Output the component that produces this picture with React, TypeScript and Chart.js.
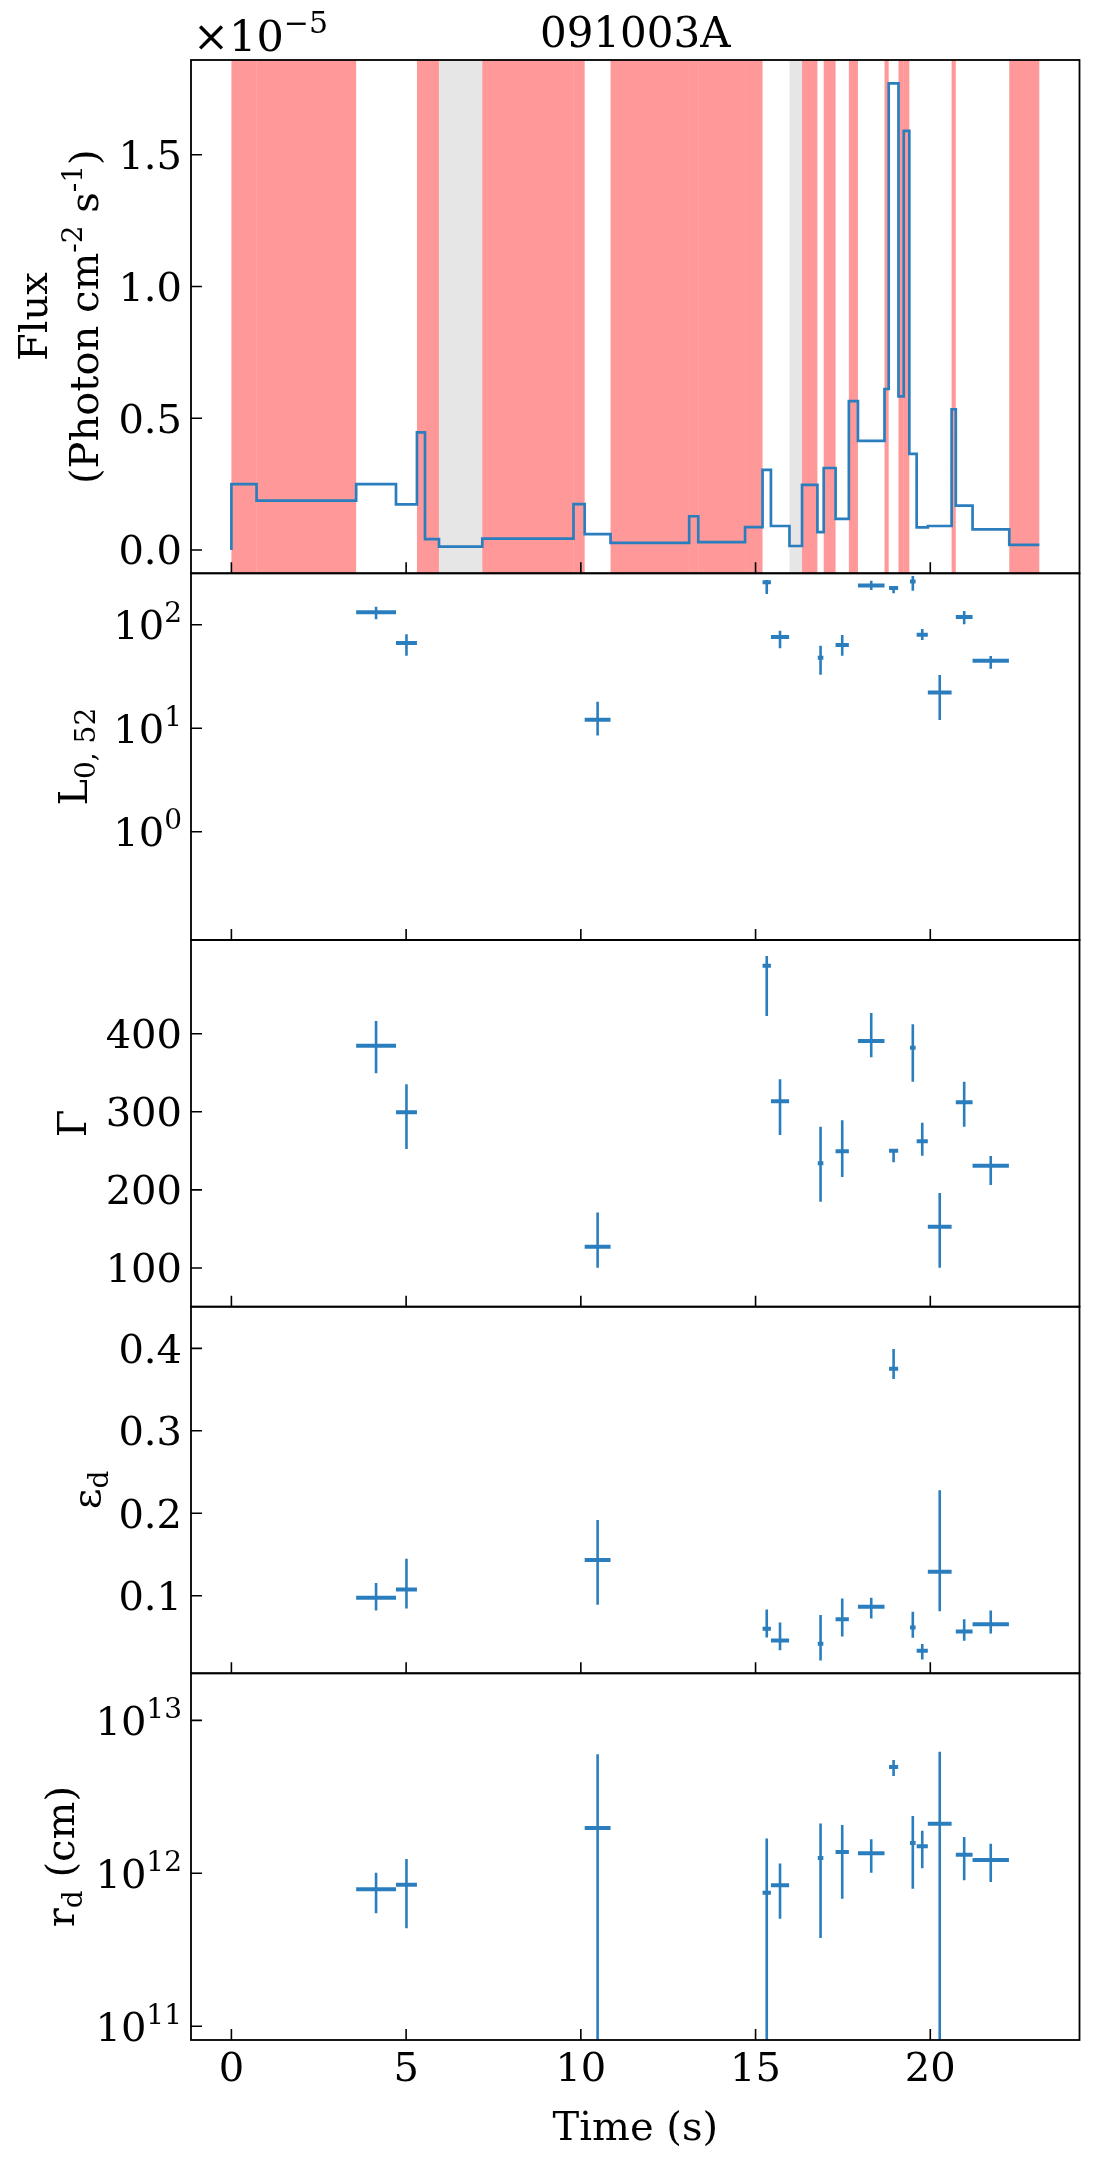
import React, { useEffect, useRef } from "react";
import { Chart, registerables } from "chart.js";

Chart.register(...registerables);

// ---------------- data ----------------
const TITLE = "091003A";

// time-bin edges (s) of the light curve
const BIN_EDGES = [0, 0.72, 3.57, 4.71, 5.31, 5.54, 5.94, 7.18, 9.79, 10.11, 10.85, 13.1, 13.36, 14.7, 15.2, 15.44, 15.97, 16.33, 16.77, 16.95, 17.29, 17.67, 17.93, 18.69, 18.81, 19.09, 19.24, 19.4, 19.61, 19.93, 20.61, 20.73, 21.21, 22.26, 23.12];
// flux per bin (photon cm^-2 s^-1)
const BIN_FLUX = [2.5e-6, 1.87e-6, 2.5e-6, 1.73e-6, 4.46e-6, 4.1e-7, 1.3e-7, 4.3e-7, 1.74e-6, 6.0e-7, 2.7e-7, 1.28e-6, 3.0e-7, 8.7e-7, 3.04e-6, 9.1e-7, 1.5e-7, 2.47e-6, 6.8e-7, 3.11e-6, 1.18e-6, 5.65e-6, 4.14e-6, 6.11e-6, 1.771e-5, 5.83e-6, 1.591e-5, 3.65e-6, 8.6e-7, 9.1e-7, 5.34e-6, 1.68e-6, 7.8e-7, 1.9e-7];
// shading per bin
const BIN_SHADE = ["red", "red", "none", "none", "red", "red", "gray", "red", "red", "none", "red", "red", "red", "red", "none", "none", "gray", "red", "none", "red", "none", "red", "none", "red", "none", "red", "red", "none", "none", "none", "red", "none", "none", "red"];

// fitted time-resolved points
const PT_TIME = [4.14, 5.01, 10.48, 15.32, 15.7, 16.86, 17.48, 18.31, 18.95, 19.5, 19.77, 20.27, 20.97, 21.73];
const PT_TIME_ERR = [0.57, 0.3, 0.37, 0.12, 0.26, 0.08, 0.19, 0.38, 0.13, 0.08, 0.16, 0.34, 0.24, 0.52];

const L_VAL = [132, 66.5, 12.1, 258, 76, 48, 63.7, 240, 226, 262, 80, 22.2, 118.6, 44.9];
const L_LO = [113, 50.1, 8.5, 198, 59.1, 32.9, 50.1, 216, 201, 213, 71.1, 12.0, 100.9, 37.6];
const L_HI = [149, 80.7, 18.0, 270, 87.5, 62.7, 79.4, 266, 237, 295, 90.8, 32.7, 135.6, 49.9];

const G_VAL = [384.6, 299.4, 127.3, 487, 313.4, 234, 249.4, 390.7, 250.2, 382.1, 262.2, 152.9, 312.2, 231];
const G_LO = [349.3, 252.4, 100.4, 422.7, 270.3, 184.9, 216.5, 369.8, 235.3, 338.6, 243.8, 100.4, 281, 206.3];
const G_HI = [416.3, 335.2, 171, 499.5, 341.6, 281, 289.1, 426.5, 252.5, 412, 286, 196, 338.6, 243.4];

const E_VAL = [0.0974, 0.1076, 0.1432, 0.0598, 0.0458, 0.0417, 0.0716, 0.0865, 0.3753, 0.0615, 0.0332, 0.129, 0.0567, 0.0655];
const E_LO = [0.0822, 0.0846, 0.0889, 0.0494, 0.034, 0.0215, 0.0506, 0.0725, 0.3628, 0.0489, 0.0227, 0.0813, 0.0453, 0.0543];
const E_HI = [0.1153, 0.1448, 0.1917, 0.0833, 0.0676, 0.0765, 0.0967, 0.0975, 0.3992, 0.0805, 0.0413, 0.2278, 0.0716, 0.0822];

const R_VAL = [7.85e11, 8.43e11, 1.98e12, 7.46e11, 8.36e11, 1.26e12, 1.38e12, 1.35e12, 4.95e12, 1.58e12, 1.5e12, 2.11e12, 1.32e12, 1.22e12];
const R_LO = [5.48e11, 4.38e11, -2.04e12, -1.98e11, 5.05e11, 3.78e11, 6.82e11, 1.01e12, 4.33e12, 7.92e11, 1.08e12, -2.02e12, 8.99e11, 8.77e11];
const R_HI = [1.01e12, 1.24e12, 6.0e12, 1.69e12, 1.16e12, 2.12e12, 2.07e12, 1.67e12, 5.51e12, 2.37e12, 1.9e12, 6.24e12, 1.73e12, 1.56e12];

// tick values
const TIME_TICKS = [0, 5, 10, 15, 20];
const FLUX_TICKS = [0, 0.5e-5, 1.0e-5, 1.5e-5];
const L_TICKS = [1, 10, 100];
const G_TICKS = [100, 200, 300, 400];
const E_TICKS = [0.1, 0.2, 0.3, 0.4];
const R_TICKS = [1e11, 1e12, 1e13];

// ---------------- style / layout ----------------
const FONT = '"DejaVu Serif", "Liberation Serif", serif';
const FS = 40;
const SUP = 28;
const BLUE = "#2a7ebd";
const RED_SHADE = "rgba(255, 0, 0, 0.4)";
const GRAY_SHADE = "rgba(128, 128, 128, 0.2)";
const PAGE_W = 1094;
const PAGE_H = 2169;
const AREA_L = 191;
const AREA_R = 1079.5;
const X_MIN = -1.156;
const X_MAX = 24.27;
const TICK_LEN = 11;

type Part = { t: string; size: number; dy?: number };
type TickLabel = { v: number; parts: Part[] };

function drawParts(ctx: CanvasRenderingContext2D, parts: Part[], x: number, y: number, align: "left" | "center" | "right") {
  let total = 0;
  const widths = parts.map((p) => {
    ctx.font = `${p.size}px ${FONT}`;
    const w = ctx.measureText(p.t).width;
    total += w;
    return w;
  });
  let cx = align === "left" ? x : align === "center" ? x - total / 2 : x - total;
  ctx.textAlign = "left";
  ctx.textBaseline = "alphabetic";
  parts.forEach((p, i) => {
    ctx.font = `${p.size}px ${FONT}`;
    ctx.fillText(p.t, cx, y + (p.dy || 0));
    cx += widths[i];
  });
}

function drawRotated(ctx: CanvasRenderingContext2D, parts: Part[], baseX: number, centerY: number) {
  ctx.save();
  ctx.translate(baseX, centerY);
  ctx.rotate(-Math.PI / 2);
  drawParts(ctx, parts, 0, 0, "center");
  ctx.restore();
}

const plain = (vals: number[], fmt: (v: number) => string): TickLabel[] =>
  vals.map((v) => ({ v, parts: [{ t: fmt(v), size: FS }] }));
const logLabels = (vals: number[]): TickLabel[] =>
  vals.map((v) => ({
    v,
    parts: [
      { t: "10", size: FS },
      { t: String(Math.round(Math.log10(v))), size: SUP, dy: -17 },
    ],
  }));

interface PanelDef {
  key: string;
  canvasTop: number;
  canvasH: number;
  areaTop: number;
  areaBottom: number;
  yType: "linear" | "logarithmic";
  yMin: number;
  yMax: number;
  yTicks: TickLabel[];
  yLabels: { parts: Part[]; baseX: number }[];
  xLabels: boolean;
  flux?: boolean;
  err?: { val: number[]; lo: number[]; hi: number[] };
}

const PANELS: PanelDef[] = [
  {
    key: "flux",
    canvasTop: 0,
    canvasH: 590,
    areaTop: 60,
    areaBottom: 573.3,
    yType: "linear",
    yMin: -0.0886e-5,
    yMax: 1.8597e-5,
    yTicks: plain(FLUX_TICKS, (v) => (v / 1e-5).toFixed(1)),
    yLabels: [
      { parts: [{ t: "Flux", size: FS }], baseX: 46.7 },
      {
        parts: [
          { t: "(Photon cm", size: FS },
          { t: "-2", size: SUP, dy: -16 },
          { t: " s", size: FS },
          { t: "-1", size: SUP, dy: -16 },
          { t: ")", size: FS },
        ],
        baseX: 98,
      },
    ],
    xLabels: false,
    flux: true,
  },
  {
    key: "L",
    canvasTop: 560,
    canvasH: 400,
    areaTop: 573.3,
    areaBottom: 940,
    yType: "logarithmic",
    yMin: 0.0899,
    yMax: 314,
    yTicks: logLabels(L_TICKS),
    yLabels: [{ parts: [{ t: "L", size: FS }, { t: "0, 52", size: SUP, dy: 8 }], baseX: 87 }],
    xLabels: false,
    err: { val: L_VAL, lo: L_LO, hi: L_HI },
  },
  {
    key: "G",
    canvasTop: 927,
    canvasH: 400,
    areaTop: 940,
    areaBottom: 1306.7,
    yType: "linear",
    yMin: 50.4,
    yMax: 520,
    yTicks: plain(G_TICKS, (v) => String(v)),
    yLabels: [{ parts: [{ t: "Γ", size: FS }], baseX: 86 }],
    xLabels: false,
    err: { val: G_VAL, lo: G_LO, hi: G_HI },
  },
  {
    key: "E",
    canvasTop: 1293,
    canvasH: 400,
    areaTop: 1306.7,
    areaBottom: 1673.3,
    yType: "linear",
    yMin: 0.0059,
    yMax: 0.4505,
    yTicks: plain(E_TICKS, (v) => v.toFixed(1)),
    yLabels: [{ parts: [{ t: "ε", size: FS }, { t: "d", size: SUP, dy: 8 }], baseX: 100 }],
    xLabels: false,
    err: { val: E_VAL, lo: E_LO, hi: E_HI },
  },
  {
    key: "R",
    canvasTop: 1660,
    canvasH: 509,
    areaTop: 1673.3,
    areaBottom: 2040,
    yType: "logarithmic",
    yMin: 8.13e10,
    yMax: 2.03e13,
    yTicks: logLabels(R_TICKS),
    yLabels: [{ parts: [{ t: "r", size: FS }, { t: "d", size: SUP, dy: 8 }, { t: " (cm)", size: FS }], baseX: 74 }],
    xLabels: true,
    err: { val: R_VAL, lo: R_LO, hi: R_HI },
  },
];

function buildConfig(def: PanelDef): any {
  const spansPlugin = {
    id: "spans_" + def.key,
    beforeDatasetsDraw(chart: any) {
      if (!def.flux) return;
      const { ctx, chartArea: a, scales } = chart;
      const xs = scales.x;
      ctx.save();
      for (let i = 0; i < BIN_SHADE.length; i++) {
        const s = BIN_SHADE[i];
        if (s === "none") continue;
        const x0 = xs.getPixelForValue(BIN_EDGES[i]);
        const x1 = xs.getPixelForValue(BIN_EDGES[i + 1]);
        ctx.fillStyle = s === "red" ? RED_SHADE : GRAY_SHADE;
        ctx.fillRect(x0, a.top, x1 - x0, a.bottom - a.top);
      }
      ctx.restore();
    },
  };

  const errPlugin = {
    id: "err_" + def.key,
    afterDatasetsDraw(chart: any) {
      if (!def.err) return;
      const { ctx, chartArea: a, scales } = chart;
      const xs = scales.x;
      const ys = scales.y;
      const e = def.err;
      ctx.save();
      ctx.beginPath();
      ctx.rect(a.left, a.top, a.right - a.left, a.bottom - a.top);
      ctx.clip();
      ctx.strokeStyle = BLUE;
      ctx.lineCap = "butt";
      for (let i = 0; i < PT_TIME.length; i++) {
        const px = xs.getPixelForValue(PT_TIME[i]);
        const py = ys.getPixelForValue(e.val[i]);
        const pyHi = ys.getPixelForValue(e.hi[i]);
        const pyLo = e.lo[i] > 0 ? ys.getPixelForValue(e.lo[i]) : a.bottom + 5;
        const px0 = xs.getPixelForValue(PT_TIME[i] - PT_TIME_ERR[i]);
        const px1 = xs.getPixelForValue(PT_TIME[i] + PT_TIME_ERR[i]);
        ctx.lineWidth = 2.6;
        ctx.beginPath();
        ctx.moveTo(px, pyHi);
        ctx.lineTo(px, pyLo);
        ctx.stroke();
        ctx.lineWidth = 4;
        ctx.beginPath();
        ctx.moveTo(px0, py);
        ctx.lineTo(px1, py);
        ctx.stroke();
      }
      ctx.restore();
    },
  };

  const decorPlugin = {
    id: "decor_" + def.key,
    afterDraw(chart: any) {
      const { ctx, chartArea: a, scales } = chart;
      const xs = scales.x;
      const ys = scales.y;
      ctx.save();
      ctx.strokeStyle = "#000";
      ctx.fillStyle = "#000";
      ctx.lineWidth = 1.8;
      ctx.strokeRect(a.left, a.top, a.right - a.left, a.bottom - a.top);
      ctx.lineWidth = 1.6;
      ctx.beginPath();
      TIME_TICKS.forEach((t) => {
        const px = xs.getPixelForValue(t);
        ctx.moveTo(px, a.bottom);
        ctx.lineTo(px, a.bottom - TICK_LEN);
      });
      def.yTicks.forEach((tk) => {
        const py = ys.getPixelForValue(tk.v);
        ctx.moveTo(a.left, py);
        ctx.lineTo(a.left + TICK_LEN, py);
      });
      ctx.stroke();
      def.yTicks.forEach((tk) => {
        const py = ys.getPixelForValue(tk.v);
        drawParts(ctx, tk.parts, a.left - 9, py + 14.5, "right");
      });
      if (def.xLabels) {
        TIME_TICKS.forEach((t) => {
          const px = xs.getPixelForValue(t);
          drawParts(ctx, [{ t: String(t), size: FS }], px, a.bottom + 40.7, "center");
        });
        drawParts(ctx, [{ t: "Time (s)", size: FS }], (a.left + a.right) / 2, a.bottom + 100, "center");
      }
      const cy = (a.top + a.bottom) / 2;
      def.yLabels.forEach((lab) => drawRotated(ctx, lab.parts, lab.baseX, cy));
      if (def.flux) {
        drawParts(ctx, [{ t: TITLE, size: 42 }], (a.left + a.right) / 2, 47, "center");
        drawParts(
          ctx,
          [
            { t: "×10", size: 43 },
            { t: "−5", size: 30, dy: -18 },
          ],
          a.left + 2,
          51,
          "left"
        );
      }
      ctx.restore();
    },
  };

  const fixY = (s: any) => {
    s.width = AREA_L;
    s.paddingTop = 0;
    s.paddingBottom = 0;
    s.paddingLeft = 0;
    s.paddingRight = 0;
  };
  const fixX = (s: any) => {
    s.height = 0;
    s.paddingTop = 0;
    s.paddingBottom = 0;
    s.paddingLeft = 0;
    s.paddingRight = 0;
  };

  let datasets: any[];
  if (def.flux) {
    const pts = [{ x: BIN_EDGES[0], y: 0 }];
    BIN_FLUX.forEach((f, i) => pts.push({ x: BIN_EDGES[i], y: f }));
    pts.push({ x: BIN_EDGES[BIN_EDGES.length - 1], y: BIN_FLUX[BIN_FLUX.length - 1] });
    datasets = [
      {
        type: "line",
        data: pts,
        stepped: "before",
        borderColor: BLUE,
        borderWidth: 2.7,
        borderJoinStyle: "miter",
        pointRadius: 0,
        fill: false,
        tension: 0,
      },
    ];
  } else {
    const e = def.err!;
    datasets = [
      {
        type: "scatter",
        data: PT_TIME.map((t, i) => ({ x: t, y: e.val[i] })),
        pointRadius: 0,
        backgroundColor: BLUE,
        borderColor: BLUE,
      },
    ];
  }

  return {
    type: def.flux ? "line" : "scatter",
    data: { datasets },
    options: {
      responsive: false,
      maintainAspectRatio: false,
      animation: false,
      devicePixelRatio: 1,
      events: [],
      layout: {
        padding: {
          left: 0,
          right: PAGE_W - AREA_R,
          top: def.areaTop - def.canvasTop,
          bottom: def.canvasTop + def.canvasH - def.areaBottom,
        },
      },
      plugins: {
        legend: { display: false },
        tooltip: { enabled: false },
        title: { display: false },
      },
      scales: {
        x: {
          type: "linear",
          min: X_MIN,
          max: X_MAX,
          grid: { display: false, drawTicks: false },
          border: { display: false },
          ticks: { display: false },
          afterFit: fixX,
        },
        y: {
          type: def.yType,
          position: "left",
          min: def.yMin,
          max: def.yMax,
          grid: { display: false, drawTicks: false },
          border: { display: false },
          ticks: { display: false },
          afterFit: fixY,
        },
      },
    },
    plugins: [spansPlugin, errPlugin, decorPlugin],
  };
}

function PanelChart({ def }: { def: PanelDef }) {
  const ref = useRef<HTMLCanvasElement>(null);
  useEffect(() => {
    const chart = new Chart(ref.current as HTMLCanvasElement, buildConfig(def));
    return () => chart.destroy();
  }, [def]);
  return (
    <canvas
      ref={ref}
      width={PAGE_W}
      height={def.canvasH}
      style={{ position: "absolute", left: 0, top: def.canvasTop, width: PAGE_W, height: def.canvasH, display: "block" }}
    />
  );
}

export default function App() {
  return (
    <div style={{ position: "absolute", left: 0, top: 0, width: PAGE_W, height: PAGE_H, background: "#fff", overflow: "hidden" }}>
      {PANELS.map((p) => (
        <PanelChart key={p.key} def={p} />
      ))}
    </div>
  );
}
